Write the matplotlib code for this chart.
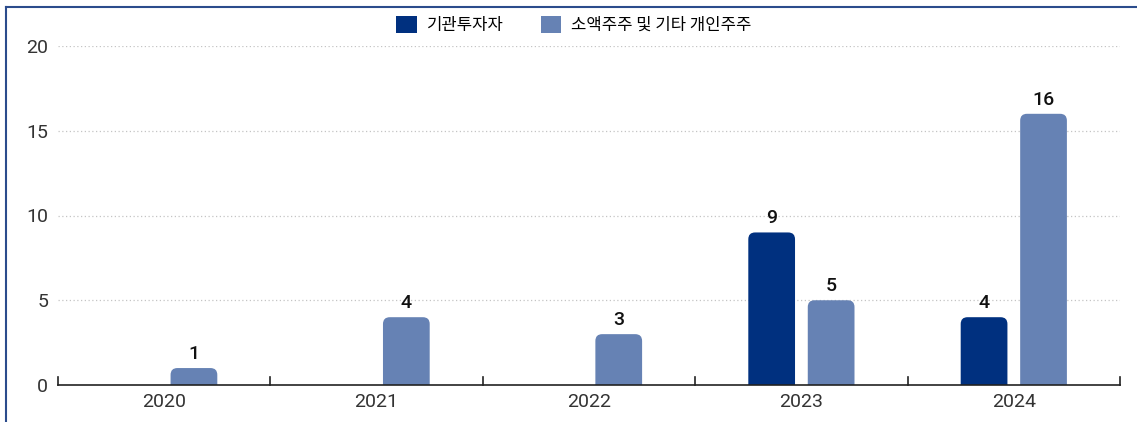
import matplotlib
matplotlib.use("Agg")
import matplotlib.pyplot as plt
from matplotlib.patches import FancyBboxPatch, Patch
from matplotlib.lines import Line2D
import numpy as np

years = ["2020", "2021", "2022", "2023", "2024"]
institutional = [0, 0, 0, 9, 4]
retail = [1, 4, 3, 5, 16]
series_names = ["기관투자자", "소액주주 및 기타 개인주주"]

DARK = "#00307F"
LIGHT = "#6682B4"
FRAME = "#2B4C8C"

plt.rcParams["font.family"] = ["Roboto", "Noto Sans CJK KR", "DejaVu Sans"]

fig = plt.figure(figsize=(11.37, 4.22), dpi=100)
ax = fig.add_axes([58 / 1137, 37 / 422, 1062 / 1137, 339 / 422])

x = np.arange(len(years))
width = 0.22
offset = 0.14
ax.set_xlim(-0.5, len(years) - 0.5)
ax.set_ylim(0, 20)

# aspect between y data units and x data units per pixel
aspect = (20 / 339) / (1 / 212.4)


def rounded_bar(xc, h, color):
	if h <= 0:
		return
	p = FancyBboxPatch((xc - width / 2, -1), width, h + 1,
		boxstyle="round,pad=0,rounding_size=0.032", mutation_aspect=aspect,
		facecolor=color, edgecolor="none", zorder=3)
	ax.add_patch(p)


for i in range(len(years)):
	rounded_bar(x[i] - offset, institutional[i], DARK)
	rounded_bar(x[i] + offset, retail[i], LIGHT)
	if institutional[i] > 0:
		ax.text(x[i] - offset, institutional[i] + 0.3, str(institutional[i]),
			ha="center", va="bottom", fontsize=14, fontweight="medium", color="#111111")
	if retail[i] > 0:
		ax.text(x[i] + offset, retail[i] + 0.3, str(retail[i]),
			ha="center", va="bottom", fontsize=14, fontweight="medium", color="#111111")

# grid
for y in [5, 10, 15, 20]:
	ax.axhline(y, color="#C4C4C4", lw=0.9, ls=(0, (1, 2)), zorder=1)

for s in ["top", "right", "left"]:
	ax.spines[s].set_visible(False)
ax.spines["bottom"].set_color("#222222")
ax.spines["bottom"].set_linewidth(1.2)
ax.spines["bottom"].set_zorder(4)

ax.set_yticks([0, 5, 10, 15, 20])
ax.set_yticklabels(["0", "5", "10", "15", "20"])
ax.tick_params(axis="y", length=0, labelsize=14, labelcolor="#333333", pad=7)
ax.set_xticks(x)
ax.set_xticklabels(years)
ax.tick_params(axis="x", length=0, labelsize=14, labelcolor="#333333", pad=6)

# category boundary ticks
for b in np.arange(-0.5, len(years), 1.0):
	ax.plot([b, b], [0, 0.45], color="#222222", lw=1.2, clip_on=False, zorder=4)

# legend
handles = [Patch(facecolor=DARK, edgecolor="none"), Patch(facecolor=LIGHT, edgecolor="none")]
fig.legend(handles, series_names, loc="center", bbox_to_anchor=(574 / 1137, 1 - 25 / 422),
	ncol=2, frameon=False, handlelength=1.25, handleheight=1.25,
	columnspacing=2.2, handletextpad=0.6, prop={"family": ["Noto Sans CJK KR"], "size": 12})

# outer frame (left and top)
fig.add_artist(Line2D([6 / 1137, 6 / 1137], [0, 1 - 7 / 422], color=FRAME, lw=1.5))
fig.add_artist(Line2D([6 / 1137, 1], [1 - 7 / 422, 1 - 7 / 422], color=FRAME, lw=1.5))

fig.savefig("out.png", dpi=100)
